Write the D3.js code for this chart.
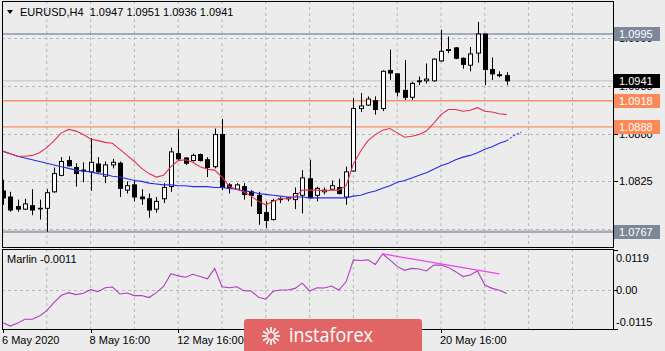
<!DOCTYPE html>
<html>
<head>
<meta charset="utf-8">
<script src="https://cdn.jsdelivr.net/npm/d3@7"></script>
<style>
  body { margin: 0; background: #ececec; }
  svg { display: block; }
  text { font-family: "Liberation Sans", Arial, sans-serif; font-size: 11px; fill: #000; }
</style>
</head>
<body>
<svg id="chart" width="665" height="351"></svg>
<script>
// Chandelles H4 EURUSD
const opens = [1.0814,1.0807,1.0796,1.0793,1.0797,1.0794,1.0794,1.0813,1.0832,1.0849,
  1.0841,1.0838,1.0836,1.0845,1.0831,1.0844,1.0846,1.0815,1.0821,1.0807,
  1.0805,1.0793,1.0805,1.0819,1.0857,1.0852,1.0849,1.0856,1.0850,1.0842,
  1.0879,1.0821,1.0816,1.0819,1.0813,1.0809,1.0789,1.0781,1.0804,1.0805,
  1.0804,1.0809,1.0828,1.0809,1.0813,1.0816,1.0818,1.0807,1.0837,1.0909,
  1.0913,1.0918,1.0909,1.0953,1.0949,1.0930,1.0922,1.0940,1.0941,1.0941,
  1.0964,1.0976,1.0979,1.0967,1.0959,1.0973,1.0995,1.0954,1.0948,1.0947];
const highs = [1.0827,1.0813,1.0804,1.0805,1.0816,1.0804,1.0816,1.0841,1.0853,1.0854,
  1.0846,1.0847,1.0875,1.0853,1.0848,1.0851,1.0848,1.0825,1.0827,1.0816,
  1.0811,1.0807,1.0823,1.0864,1.0885,1.0853,1.0857,1.0857,1.0853,1.0886,
  1.0897,1.0823,1.0823,1.0823,1.0815,1.0813,1.0802,1.0805,1.0807,1.0807,
  1.0818,1.0838,1.0850,1.0819,1.0818,1.0826,1.0828,1.0842,1.0921,1.0927,
  1.0923,1.0923,1.0953,1.0977,1.0950,1.0965,1.0940,1.0946,1.0961,1.0967,
  1.1000,1.0992,1.0980,1.0968,1.0980,1.1009,1.0995,1.0968,1.0952,1.0951];
const lows = [1.0798,1.0790,1.0790,1.0792,1.0786,1.0781,1.0767,1.0812,1.0831,1.0842,
  1.0819,1.0824,1.0814,1.0835,1.0823,1.0840,1.0807,1.0811,1.0802,1.0798,
  1.0783,1.0789,1.0800,1.0813,1.0850,1.0844,1.0848,1.0848,1.0830,1.0840,
  1.0815,1.0811,1.0815,1.0804,1.0796,1.0775,1.0771,1.0780,1.0800,1.0802,
  1.0793,1.0788,1.0805,1.0802,1.0810,1.0815,1.0810,1.0798,1.0836,1.0905,
  1.0912,1.0902,1.0906,1.0942,1.0923,1.0919,1.0919,1.0936,1.0938,1.0940,
  1.0963,1.0973,1.0966,1.0955,1.0952,1.0962,1.0936,1.0942,1.0945,1.0936];
const closes = [1.0806,1.0792,1.0793,1.0799,1.0792,1.0794,1.0812,1.0834,1.0848,1.0843,
  1.0834,1.0837,1.0847,1.0836,1.0844,1.0847,1.0817,1.0820,1.0807,1.0805,
  1.0792,1.0802,1.0818,1.0859,1.0851,1.0846,1.0855,1.0849,1.0841,1.0879,
  1.0818,1.0817,1.0821,1.0810,1.0809,1.0788,1.0780,1.0803,1.0805,1.0806,
  1.0811,1.0829,1.0806,1.0817,1.0815,1.0820,1.0811,1.0836,1.0909,1.0912,
  1.0920,1.0908,1.0952,1.0950,1.0928,1.0922,1.0938,1.0941,1.0943,1.0966,
  1.0975,1.0977,1.0967,1.0960,1.0972,1.0995,1.0954,1.0949,1.0947,1.0941];

// Moyennes mobiles
const maRouge = [1.0860,1.0857,1.0854,1.0854,1.0855,1.0858,1.0864,1.0872,1.0881,1.0885,
  1.0883,1.0879,1.0874,1.0872,1.0870,1.0869,1.0862,1.0855,1.0848,1.0840,
  1.0834,1.0830,1.0832,1.0842,1.0849,1.0850,1.0847,1.0842,1.0839,1.0838,
  1.0830,1.0819,1.0816,1.0813,1.0808,1.0802,1.0798,1.0802,1.0805,1.0805,
  1.0807,1.0815,1.0815,1.0815,1.0814,1.0815,1.0815,1.0820,1.0845,1.0860,
  1.0872,1.0879,1.0884,1.0886,1.0881,1.0876,1.0877,1.0879,1.0883,1.0892,
  1.0902,1.0908,1.0908,1.0906,1.0907,1.0910,1.0906,1.0905,1.0903,1.0902];
const maBleu = [1.08595,1.0857,1.0854,1.0852,1.0850,1.0848,1.0846,1.0844,1.0842,1.0840,
  1.0838,1.0837,1.0836,1.0834,1.0833,1.0831,1.0830,1.0828,1.0826,1.0825,
  1.0823,1.0822,1.0821,1.0821,1.0820,1.0820,1.0819,1.0819,1.0819,1.0818,
  1.0818,1.0817,1.0816,1.0814,1.0813,1.0811,1.0810,1.0809,1.0808,1.0807,
  1.0807,1.0807,1.0806,1.0806,1.0806,1.0806,1.0806,1.0806,1.0808,1.0809,
  1.0812,1.0814,1.0817,1.0820,1.0824,1.0826,1.0829,1.0832,1.0835,1.0839,
  1.0843,1.0846,1.0850,1.0853,1.0855,1.0858,1.0862,1.0865,1.0869,1.0872];
const maBleuFutur = [1.0872, 1.0878, 1.0882];

// Oscillateur Marlin
const marlin = [-0.0100,-0.0110,-0.0101,-0.0089,-0.0089,-0.0079,-0.0063,-0.0038,-0.0016,-0.0008,
  -0.0014,-0.0010,0.0001,-0.0005,0.0007,0.0009,-0.0012,-0.0009,-0.0017,-0.0017,
  -0.0023,-0.0008,0.0011,0.0050,0.0043,0.0039,0.0048,0.0041,0.0034,0.0066,
  0.0010,0.0007,0.0010,-0.0002,-0.0003,-0.0022,-0.0028,-0.0004,0.0000,0.0000,
  0.0005,0.0021,-0.0003,0.0007,0.0006,0.0012,0.0000,0.0025,0.0092,0.0090,
  0.0092,0.0078,0.0110,0.0092,0.0072,0.0060,0.0066,0.0064,0.0058,0.0076,
  0.0076,0.0069,0.0056,0.0041,0.0046,0.0058,0.0015,0.0005,-0.0001,-0.0011];
const marlinTrendBars = [52, 68];
const marlinTrendValues = [0.0110, 0.0049];
const marlinTicks = [0.0119, 0.00, -0.0115];
const marlinTickLabels = ["0.0119", "0.00", "-0.0115"];

// Axes (les étiquettes sous le logo ne sont pas visibles)
const priceTicks = [1.0990, 1.0935, 1.0880, 1.0825, 1.0770];
const timeTickBars = [0, 12, 24, 60];
const timeTickLabels = ["6 May 2020", "8 May 16:00", "12 May 16:00", "20 May 16:00"];

// Niveaux horizontaux
const niveauxGris = [1.0995, 1.0767];
const niveauxOrange = [1.0918, 1.0888];
const prixActuel = 1.0941;

// ---------- dessin ----------
const svg = d3.select("#chart");
const left = 2, right = 613;
const mainTop = 1, mainBottom = 247;
const oscTop = 249, oscBottom = 329;

const x = d3.scaleLinear().domain([0, 80]).range([3, 3 + 80 * 7.3]);
const y = d3.scaleLinear().domain([1.0767, 1.0995]).range([231.7, 34]);
const yo = d3.scaleLinear().domain([-0.0115, 0.0119]).range([327.7, 251]);

const defs = svg.append("defs");
defs.append("clipPath").attr("id", "clipMain")
  .append("rect").attr("x", left).attr("y", mainTop).attr("width", right - left).attr("height", mainBottom - mainTop);
defs.append("clipPath").attr("id", "clipOsc")
  .append("rect").attr("x", left).attr("y", oscTop).attr("width", right - left).attr("height", oscBottom - oscTop);

svg.append("rect").attr("width", 665).attr("height", 351).attr("fill", "#ececec");

const gridBars = d3.range(6, 80, 6);

// Grille du panneau principal
const main = svg.append("g").attr("clip-path", "url(#clipMain)");
main.selectAll(".vgrid").data(gridBars).enter().append("line")
  .attr("x1", d => x(d)).attr("x2", d => x(d))
  .attr("y1", mainTop).attr("y2", mainBottom)
  .attr("stroke", "#b8b8b8").attr("stroke-dasharray", "3,3");
main.selectAll(".hgrid").data(priceTicks).enter().append("line")
  .attr("x1", left).attr("x2", right)
  .attr("y1", d => Math.round(y(d)) + 0.5).attr("y2", d => Math.round(y(d)) + 0.5)
  .attr("stroke", "#b8b8b8").attr("stroke-dasharray", "3,3");

// Niveaux
main.append("line").attr("x1", left).attr("x2", right)
  .attr("y1", y(prixActuel)).attr("y2", y(prixActuel))
  .attr("stroke", "#c2c2c2").attr("stroke-width", 1);
main.append("line").attr("x1", left).attr("x2", right)
  .attr("y1", y(niveauxGris[0])).attr("y2", y(niveauxGris[0]))
  .attr("stroke", "#8797ab").attr("stroke-width", 1.3);
main.append("line").attr("x1", left).attr("x2", right)
  .attr("y1", y(niveauxGris[1])).attr("y2", y(niveauxGris[1]))
  .attr("stroke", "#a4acb5").attr("stroke-width", 2.5);
main.selectAll(".orange").data(niveauxOrange).enter().append("line")
  .attr("x1", left).attr("x2", right)
  .attr("y1", d => y(d)).attr("y2", d => y(d))
  .attr("stroke", "#fa9068").attr("stroke-width", 1.3);

// Chandelles
const bars = d3.range(opens.length);
const bodyW = 4;
main.selectAll(".wick").data(bars).enter().append("line")
  .attr("x1", i => Math.round(x(i)) + 0.5).attr("x2", i => Math.round(x(i)) + 0.5)
  .attr("y1", i => y(highs[i])).attr("y2", i => y(lows[i]))
  .attr("stroke", "#000").attr("stroke-width", 1);
main.selectAll(".body").data(bars).enter().append("rect")
  .attr("x", i => Math.round(x(i)) + 0.5 - bodyW / 2)
  .attr("y", i => y(Math.max(opens[i], closes[i])))
  .attr("width", bodyW)
  .attr("height", i => Math.max(0.6, Math.abs(y(opens[i]) - y(closes[i]))))
  .attr("fill", i => closes[i] >= opens[i] ? "#fff" : "#000")
  .attr("stroke", "#000").attr("stroke-width", 1);

// Moyennes mobiles
const lineMain = d3.line().x((d, i) => x(i)).y(d => y(d));
main.append("path").attr("d", lineMain(maBleu))
  .attr("fill", "none").attr("stroke", "#2a2af0").attr("stroke-width", 1.1);
main.append("path")
  .attr("d", d3.line().x((d, i) => x(maBleu.length - 1 + i)).y(d => y(d))(maBleuFutur))
  .attr("fill", "none").attr("stroke", "#2a2af0").attr("stroke-width", 1.1)
  .attr("stroke-dasharray", "2,2");
main.append("path").attr("d", lineMain(maRouge))
  .attr("fill", "none").attr("stroke", "#e2324f").attr("stroke-width", 1.1);

// Panneau oscillateur
const osc = svg.append("g").attr("clip-path", "url(#clipOsc)");
osc.selectAll(".vgrid").data(gridBars).enter().append("line")
  .attr("x1", d => x(d)).attr("x2", d => x(d))
  .attr("y1", oscTop).attr("y2", oscBottom)
  .attr("stroke", "#b8b8b8").attr("stroke-dasharray", "3,3");
osc.append("line").attr("x1", left).attr("x2", right)
  .attr("y1", Math.round(yo(0)) + 0.5).attr("y2", Math.round(yo(0)) + 0.5)
  .attr("stroke", "#b8b8b8").attr("stroke-dasharray", "3,3");
osc.append("path").attr("d", d3.line().x((d, i) => x(i)).y(d => yo(d))(marlin))
  .attr("fill", "none").attr("stroke", "#ad3fbd").attr("stroke-width", 1.1);
osc.append("line")
  .attr("x1", x(marlinTrendBars[0])).attr("y1", yo(marlinTrendValues[0]))
  .attr("x2", x(marlinTrendBars[1])).attr("y2", yo(marlinTrendValues[1]))
  .attr("stroke", "#f040f0").attr("stroke-width", 1.3);

// Cadres
svg.append("rect").attr("x", left + 0.5).attr("y", mainTop + 0.5)
  .attr("width", right - left).attr("height", mainBottom - mainTop)
  .attr("fill", "none").attr("stroke", "#000");
svg.append("rect").attr("x", left + 0.5).attr("y", oscTop + 0.5)
  .attr("width", right - left).attr("height", oscBottom - oscTop)
  .attr("fill", "none").attr("stroke", "#000");

// Titres
svg.append("path").attr("d", "M7,10 L13,10 L10,14 Z").attr("fill", "#000");
svg.append("text").attr("x", 20).attr("y", 16).text("EURUSD,H4  1.0947 1.0951 1.0936 1.0941")
  .attr("xml:space", "preserve");
svg.append("text").attr("x", 7).attr("y", 263).text("Marlin -0.0011");

// Axe des prix (les étiquettes de niveaux recouvrent en partie les graduations, comme sur l'original)
const axisX = right + 1;
svg.selectAll(".ptick").data(priceTicks).enter().append("line")
  .attr("x1", axisX).attr("x2", axisX + 4)
  .attr("y1", d => Math.round(y(d)) + 0.5).attr("y2", d => Math.round(y(d)) + 0.5)
  .attr("stroke", "#000");
svg.selectAll(".plabel").data(priceTicks).enter().append("text")
  .attr("x", 619).attr("y", d => y(d) + 4).text(d => d.toFixed(4));

function etiquette(value, bg) {
  const cy = Math.round(y(value));
  svg.append("rect").attr("x", 614).attr("y", cy - 7).attr("width", 46).attr("height", 14).attr("fill", bg);
  svg.append("text").attr("x", 619).attr("y", cy + 4).style("fill", "#fff")
    .text(value.toFixed(4));
}
etiquette(niveauxGris[0], "#7b8898");
etiquette(prixActuel, "#000");
niveauxOrange.forEach(v => etiquette(v, "#fc8a58"));
etiquette(niveauxGris[1], "#7b8898");

// Axe de l'oscillateur
svg.selectAll(".otick").data([oscTop + 1, yo(0), oscBottom]).enter().append("line")
  .attr("x1", axisX).attr("x2", axisX + 4)
  .attr("y1", d => Math.round(d) + 0.5).attr("y2", d => Math.round(d) + 0.5)
  .attr("stroke", "#000");
svg.selectAll(".olabel").data(marlinTicks).enter().append("text")
  .attr("x", 616)
  .attr("y", (d, i) => [262, 294, 326][i])
  .text((d, i) => marlinTickLabels[i]);

// Axe du temps
svg.selectAll(".ttick").data(timeTickBars).enter().append("line")
  .attr("x1", d => Math.round(x(d)) + 0.5).attr("x2", d => Math.round(x(d)) + 0.5)
  .attr("y1", oscBottom).attr("y2", oscBottom + 4)
  .attr("stroke", "#000");
svg.selectAll(".tlabel").data(timeTickBars).enter().append("text")
  .attr("x", d => x(d) - 1).attr("y", 344)
  .text((d, i) => timeTickLabels[i]);

// Logo
const logo = svg.append("g");
logo.append("rect").attr("x", 244).attr("y", 319).attr("width", 178).attr("height", 40)
  .attr("rx", 3).attr("fill", "#e26565");
const star = logo.append("g").attr("transform", "translate(271,336)");
d3.range(12).forEach(k => {
  const a = k * Math.PI / 6;
  star.append("line")
    .attr("x1", Math.cos(a) * 3).attr("y1", Math.sin(a) * 3)
    .attr("x2", Math.cos(a) * 9).attr("y2", Math.sin(a) * 9)
    .attr("stroke", "#fff").attr("stroke-width", 1.6);
});
logo.append("text").attr("x", 289).attr("y", 342)
  .attr("textLength", 84).attr("lengthAdjust", "spacingAndGlyphs")
  .style("font-family", "'Open Sans', sans-serif").style("font-size", "20px").style("fill", "#fff")
  .text("instaforex");
</script>
</body>
</html>
